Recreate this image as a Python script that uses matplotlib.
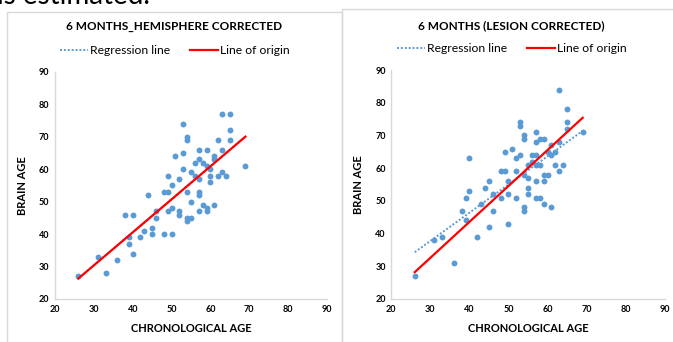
import matplotlib
matplotlib.use('Agg')
import matplotlib.pyplot as plt
from matplotlib.patches import Rectangle
from matplotlib.lines import Line2D

plt.rcParams['font.family'] = ['Lato', 'DejaVu Sans']

# left panel: hemisphere corrected
left_x = [26, 31, 33, 36, 38, 40, 39, 39, 40, 42, 43, 44, 45, 45, 46, 46, 48, 49, 48, 50,
          49, 49, 50, 50, 51, 52, 52, 52, 53, 53, 53, 54, 54, 54, 54, 54, 55, 55, 55, 56,
          56, 57, 59, 57, 57, 57, 57, 57, 58, 58, 59, 59, 59, 60, 60, 60, 61, 61, 61, 62,
          62, 63, 65, 63, 63, 64, 65, 65, 69]
left_y = [27, 33, 28, 32, 46, 46, 39, 37, 34, 39, 41, 52, 42, 40, 47, 45, 53, 53, 40, 40,
          58, 47, 55, 48, 64, 57, 47, 46, 74, 65, 60, 70, 69, 53, 45, 44, 45, 59, 50, 58,
          62, 66, 66, 63, 57, 53, 52, 47, 62, 49, 61, 48, 47, 60, 58, 56, 64, 63, 49, 69,
          58, 77, 77, 66, 59, 58, 72, 69, 61]
left_line_x = [26, 69]
left_origin_y = [26.3, 70.0]
left_reg_y = [26.3, 70.0]

# right panel: lesion corrected
right_x = [26, 31, 33, 36, 38, 39, 39, 40, 40, 42, 43, 44, 45, 45, 46, 46, 48, 49, 48, 49,
           50, 50, 50, 51, 52, 52, 52, 53, 53, 53, 54, 54, 54, 54, 54, 55, 55, 55, 55, 56,
           56, 57, 57, 57, 57, 57, 57, 58, 58, 58, 59, 59, 60, 59, 59, 60, 61, 61, 61, 62,
           62, 63, 63, 63, 64, 65, 65, 65, 69]
right_y = [27, 38, 39, 31, 47, 51, 44, 53, 63, 39, 49, 54, 56, 42, 52, 47, 59, 59, 51, 65,
           56, 52, 43, 66, 63, 59, 51, 74, 73, 64, 70, 69, 58, 48, 47, 61, 57, 54, 52, 64,
           62, 71, 68, 64, 61, 56, 51, 69, 61, 51, 69, 58, 58, 56, 49, 65, 67, 64, 48, 65,
           61, 84, 68, 59, 61, 78, 74, 72, 71]
right_line_x = [26, 69]
right_origin_y = [28.2, 75.4]
right_reg_y = [34.3, 71.4]

titles = ['6 MONTHS_HEMISPHERE CORRECTED', '6 MONTHS (LESION CORRECTED)']
ticks = [20, 30, 40, 50, 60, 70, 80, 90]

W, H = 673, 342
fig = plt.figure(figsize=(W / 100, H / 100), dpi=100)

blue = '#5B9BD5'
red = '#FF0000'
grey = '#D9D9D9'

# panel frames (pixel coords -> figure fraction)
def fx(px):
    return px / W

def fy(py):
    return 1 - py / H

fig.patches.append(Rectangle((fx(6.5), fy(345)), fx(342) - fx(6.5), fy(11.7) - fy(345),
                             transform=fig.transFigure, fill=False, edgecolor=grey, lw=1))
fig.patches.append(Rectangle((fx(341.7), fy(345)), fx(690) - fx(341.7), fy(9.3) - fy(345),
                             transform=fig.transFigure, fill=False, edgecolor=grey, lw=1))

# leftover text from the page above, cut off by the crop
fig.text(-0.004, fy(4), 'is estimated.', fontsize=20, va='baseline', ha='left', color='black')

panels = [
    dict(box=(55, 327, 71.7, 299), x=left_x, y=left_y, ox=left_line_x, oy=left_origin_y,
         ry=left_reg_y, title=titles[0], tpos=(174, 27), lpos=(175, 51)),
    dict(box=(391.3, 664.7, 70, 299), x=right_x, y=right_y, ox=right_line_x, oy=right_origin_y,
         ry=right_reg_y, title=titles[1], tpos=(511, 25.7), lpos=(512, 49)),
]

for p in panels:
    x0, x1, ytop, ybot = p['box']
    ax = fig.add_axes([fx(x0), fy(ybot), fx(x1) - fx(x0), fy(ytop) - fy(ybot)])
    ax.scatter(p['x'], p['y'], s=18, color=blue, zorder=3, linewidths=0)
    ax.plot(p['ox'], p['ry'], color=blue, lw=1.4, ls=(0, (1, 1)), zorder=2)
    ax.plot(p['ox'], p['oy'], color=red, lw=1.6, zorder=4)
    ax.set_xlim(20, 90)
    ax.set_ylim(20, 90)
    ax.set_xticks(ticks)
    ax.set_yticks(ticks)
    ax.tick_params(length=0, labelsize=6.5, pad=4)
    for lab in ax.get_xticklabels() + ax.get_yticklabels():
        lab.set_fontweight('bold')
    for s in ['top', 'right']:
        ax.spines[s].set_visible(False)
    for s in ['left', 'bottom']:
        ax.spines[s].set_color(grey)
        ax.spines[s].set_linewidth(1)
    ax.set_xlabel('CHRONOLOGICAL AGE', fontsize=8, fontweight='bold', labelpad=7)
    ax.set_ylabel('BRAIN AGE', fontsize=8, fontweight='bold', labelpad=8)
    fig.text(fx(p['tpos'][0]), fy(p['tpos'][1]), p['title'], fontsize=8.5, fontweight='bold',
             ha='center', va='center')
    handles = [Line2D([], [], color=blue, lw=1.4, ls=(0, (1, 1))),
               Line2D([], [], color=red, lw=1.6)]
    fig.legend(handles, ['Regression line', 'Line of origin'], loc='center',
               bbox_to_anchor=(fx(p['lpos'][0]), fy(p['lpos'][1])), ncol=2, frameon=False,
               fontsize=8.7, handlelength=2.3, handletextpad=0.2, columnspacing=1.6,
               borderpad=0, borderaxespad=0)

fig.savefig('out.png', dpi=100)
